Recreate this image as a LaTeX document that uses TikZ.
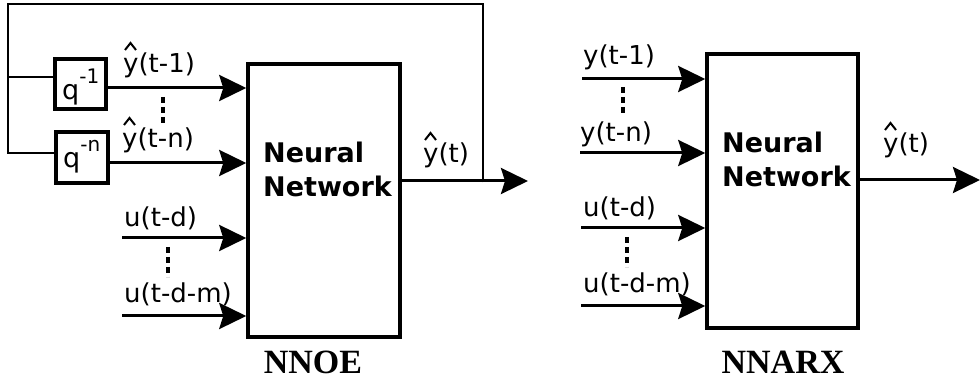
\documentclass[tikz,border=0pt]{standalone}
\usepackage{fontspec}
\setsansfont{DejaVu Sans}
\newfontfamily\capfont{Liberation Serif}
\usetikzlibrary{arrows.meta}
\newcommand{\qsup}[1]{q\raisebox{16pt}{\fontsize{20}{20}\selectfont #1}}
\begin{document}
\begin{tikzpicture}[x=1pt,y=-1pt,
  nnbox/.style={draw, line width=3.5pt, inner sep=0pt},
  qbox/.style={draw, line width=3.5pt, inner sep=0pt, minimum width=51pt, minimum height=50pt},
  arr/.style={line width=3pt, -{Stealth[length=27pt,width=26pt,inset=4pt]}},
  fb/.style={line width=2.6pt},
  hatmark/.style={line width=2pt, line join=miter},
  vdots/.style={line width=4.5pt, dash pattern=on 6pt off 4pt},
  lbl/.style={font=\sffamily\fontsize{26}{26}\selectfont, anchor=base west, inner sep=0pt},
  qlbl/.style={font=\sffamily\fontsize{27}{27}\selectfont, anchor=base west, inner sep=0pt},
  nntxt/.style={font=\sffamily\bfseries\fontsize{27}{27}\selectfont, anchor=base west, inner sep=0pt},
  captxt/.style={font=\capfont\bfseries\fontsize{34}{34}\selectfont, anchor=base, inner sep=0pt}
]
\useasboundingbox (0,0) rectangle (980,379);

% ---------- NNOE ----------
\node[nnbox, minimum width=152pt, minimum height=273pt] (nn1) at (324,200.5) {};
\node[qbox] (q1) at (80.5,84) {};
\node[qbox, minimum width=52pt, minimum height=51pt] (qn) at (82,157.5) {};
\node[qlbl] (q1t) at (62,100) {\qsup{-1}};
\node[qlbl] (qnt) at (63,168) {\qsup{-n}};

\node[nntxt] (nn1a) at (263,163) {Neural};
\node[nntxt] (nn1b) at (263,197) {Network};

\coordinate (u1s) at (122,238);
\coordinate (u2s) at (122,316);
\coordinate (o1e) at (528,181);
\coordinate (tap) at (483,181);
\coordinate (tr) at (483,4);
\coordinate (tl) at (8,4);
\coordinate (bl) at (8,153);
\coordinate (ml) at (8,77);

\draw[arr] (q1.east |- 0,88) -- (nn1.west |- 0,88);
\draw[arr] (qn.east |- 0,163) -- (nn1.west |- 0,163);
\draw[arr] (u1s) -- (nn1.west |- u1s);
\draw[arr] (u2s) -- (nn1.west |- u2s);
\draw[arr] (nn1.east |- o1e) -- (o1e);
\draw[fb] ([yshift=-1.5pt]tap) -- (tr) -- (tl) -- (bl) -- (qn.west |- bl);
\draw[fb] (ml) -- (q1.west |- ml);

\draw[vdots] (163,97) -- (163,125);
\draw[vdots] (168,247) -- (168,277);

\node[lbl] (l1) at (123,73) {y(t-1)};
\node[lbl] (l2) at (122,148) {y(t-n)};
\node[lbl] (l3) at (124,227) {u(t-d)};
\node[lbl] (l4) at (124,303) {u(t-d-m)};
\node[lbl] (l5) at (423,163) {y(t)};
\draw[hatmark, shift={(l1.base west)}] (2,-23) -- (7.5,-30) -- (13,-23);
\draw[hatmark, shift={(l2.base west)}] (2,-23) -- (7.5,-30) -- (13,-23);
\draw[hatmark, shift={(l5.base west)}] (2,-23) -- (7.5,-30) -- (13,-23);
\node[captxt] (c1) at (313,373) {NNOE};

% ---------- NNARX ----------
\node[nnbox, minimum width=151pt, minimum height=274pt] (nn2) at (782.5,191) {};
\node[nntxt] (nn2a) at (722,153) {Neural};
\node[nntxt] (nn2b) at (722,187) {Network};

\coordinate (r1s) at (582,79);
\coordinate (r2s) at (580,153);
\coordinate (r3s) at (581,228);
\coordinate (r4s) at (581,306);
\coordinate (o2e) at (980,180);

\draw[arr] (r1s) -- (nn2.west |- r1s);
\draw[arr] (r2s) -- (nn2.west |- r2s);
\draw[arr] (r3s) -- (nn2.west |- r3s);
\draw[arr] (r4s) -- (nn2.west |- r4s);
\draw[arr] (nn2.east |- o2e) -- (o2e);

\draw[vdots] (623,87) -- (623,116);
\draw[vdots] (627,237) -- (627,267);

\node[lbl] (m1) at (583,65) {y(t-1)};
\node[lbl] (m2) at (580,142) {y(t-n)};
\node[lbl] (m3) at (583,217) {u(t-d)};
\node[lbl] (m4) at (583,293) {u(t-d-m)};
\node[lbl] (m5) at (883,153) {y(t)};
\draw[hatmark, shift={(m5.base west)}] (2,-23) -- (7.5,-30) -- (13,-23);
\node[captxt] (c2) at (783,373) {NNARX};
\end{tikzpicture}
\end{document}
